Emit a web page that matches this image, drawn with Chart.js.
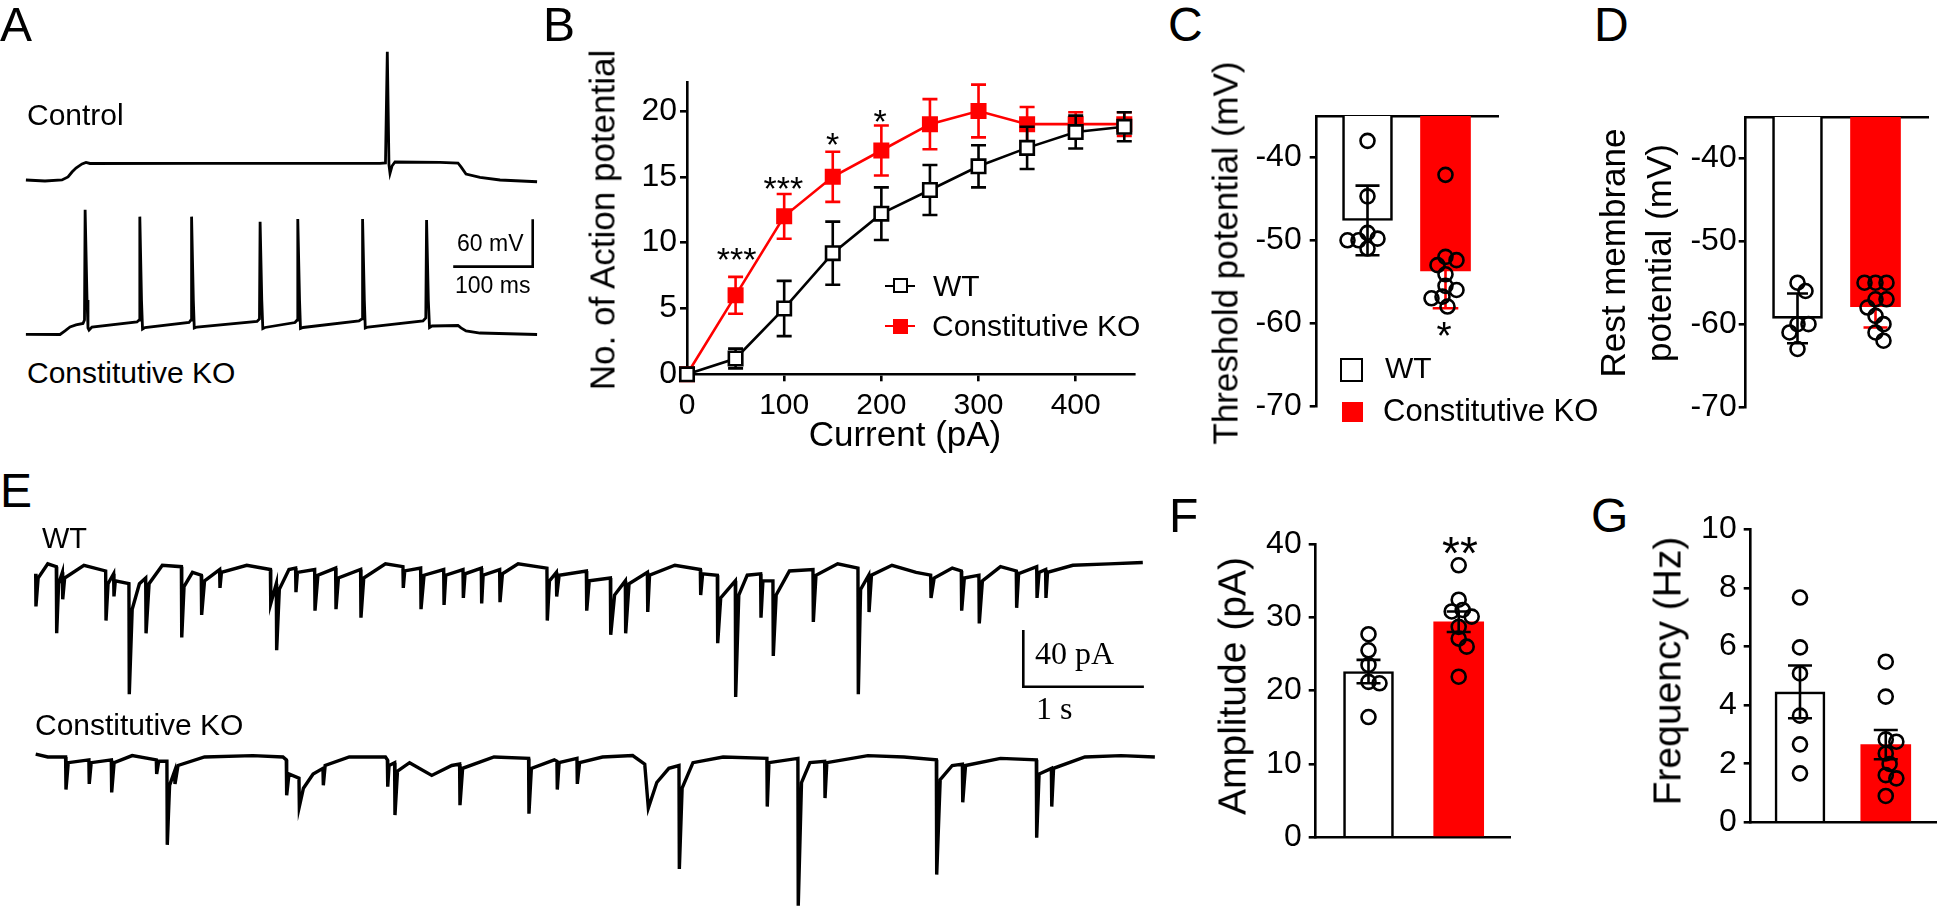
<!DOCTYPE html>
<html lang="en"><head><meta charset="utf-8"><title>Figure</title>
<script src="https://cdn.jsdelivr.net/npm/chart.js@4.4.1/dist/chart.umd.min.js"></script>
<style>
html,body{margin:0;padding:0;background:#fff}
body{position:relative;width:1946px;height:909px;overflow:hidden;font-family:'Liberation Sans',Arial,Helvetica,sans-serif;color:#000}
canvas{position:absolute;display:block}
.t{position:absolute;white-space:nowrap;line-height:1}
.vm{transform:translateY(-50%)}
.cm{transform:translate(-50%,-50%)}
.rot{transform:translate(-50%,-50%) rotate(-90deg)}
.ax{transform:translateX(-50%)}
.serif{font-family:'Liberation Serif','Times New Roman',serif}
.pl{font-size:48px}
.box{position:absolute;box-sizing:border-box}
</style></head><body>
<canvas id="cA" width="530" height="310" style="left:20px;top:40px"></canvas>
<canvas id="cB" width="560" height="405" style="left:600px;top:55px"></canvas>
<canvas id="cC" width="280" height="351" style="left:1240px;top:85px"></canvas>
<canvas id="cD" width="266" height="340" style="left:1680px;top:90px"></canvas>
<canvas id="cE" width="1150" height="369" style="left:20px;top:540px"></canvas>
<canvas id="cF" width="280" height="375" style="left:1250px;top:515px"></canvas>
<canvas id="cG" width="266" height="390" style="left:1680px;top:500px"></canvas>

<!-- panel letters -->
<div class="t pl" style="left:0px;top:1px">A</div>
<div class="t pl" style="left:543px;top:1px">B</div>
<div class="t pl" style="left:1168px;top:1px">C</div>
<div class="t pl" style="left:1594px;top:1px">D</div>
<div class="t pl" style="left:0px;top:467px">E</div>
<div class="t pl" style="left:1169px;top:492px">F</div>
<div class="t pl" style="left:1591px;top:492px">G</div>

<!-- A -->
<div class="t vm" style="left:27px;top:115px;font-size:30px">Control</div>
<div class="t vm" style="left:27px;top:373px;font-size:30px">Constitutive KO</div>
<div class="t vm" style="left:457px;top:243px;font-size:23px">60 mV</div>
<div class="t vm" style="left:455px;top:285px;font-size:23px">100 ms</div>

<!-- B -->
<div class="t rot" style="left:602px;top:220px;font-size:35px">No. of Action potential</div>
<div class="t cm" style="left:905px;top:433px;font-size:35px">Current (pA)</div>
<div class="t ax" style="left:736.7px;top:242.3px;font-size:34px">***</div>
<div class="t ax" style="left:783.3px;top:170.6px;font-size:34px">***</div>
<div class="t ax" style="left:832.5px;top:127.3px;font-size:34px">*</div>
<div class="t ax" style="left:880px;top:104px;font-size:34px">*</div>
<div class="box" style="left:885px;top:284.5px;width:30px;height:2.6px;background:#000"></div>
<div class="box" style="left:892.5px;top:278.3px;width:15px;height:15px;border:2.6px solid #000;background:#fff"></div>
<div class="t vm" style="left:933px;top:286px;font-size:30px">WT</div>
<div class="box" style="left:885px;top:324.7px;width:30px;height:2.6px;background:#ff0000"></div>
<div class="box" style="left:892.5px;top:318.5px;width:15px;height:15px;background:#ff0000"></div>
<div class="t vm" style="left:932px;top:326px;font-size:30px">Constitutive KO</div>

<!-- C -->
<div class="t rot" style="left:1225px;top:253px;font-size:35px">Threshold potential (mV)</div>
<div class="t ax" style="left:1444px;top:316px;font-size:39px">*</div>
<div class="box" style="left:1340px;top:358px;width:23px;height:24px;border:2.6px solid #000;background:#fff"></div>
<div class="t vm" style="left:1385px;top:368.3px;font-size:30px">WT</div>
<div class="box" style="left:1342px;top:402px;width:21px;height:20px;background:#ff0000"></div>
<div class="t vm" style="left:1383px;top:410px;font-size:31px">Constitutive KO</div>

<!-- D -->
<div class="t rot" style="left:1612px;top:253.3px;font-size:35px">Rest membrane</div>
<div class="t rot" style="left:1658px;top:253.3px;font-size:35px">potential (mV)</div>

<!-- E -->
<div class="t vm" style="left:42px;top:537.5px;font-size:29px">WT</div>
<div class="t vm" style="left:35px;top:725px;font-size:30px">Constitutive KO</div>
<div class="t vm serif" style="left:1035px;top:653px;font-size:32px">40 pA</div>
<div class="t vm serif" style="left:1036px;top:707.5px;font-size:32px">1 s</div>

<!-- F -->
<div class="t rot" style="left:1232px;top:686px;font-size:39px">Amplitude (pA)</div>
<div class="t ax" style="left:1460px;top:530px;font-size:46px">**</div>

<!-- G -->
<div class="t rot" style="left:1667px;top:671px;font-size:39px">Frequency (Hz)</div>

<script>
// ===================== DATA =====================
// Panel A: current-clamp traces [time (ms), membrane potential (mV)]
const ctrlTrace = [[0,-70],[24,-71.3],[45.4,-70],[53,-66.2],[58,-59.9],[63,-54.8],[70.6,-49.7],[75.6,-47.8],[80.6,-49.1],[219,-48.9],[445.4,-48.9],[452.3,-48.5],[454.6,92.4],[456.7,-51],[458,-61.5],[460.5,-52.3],[464.3,-47.2],[520.9,-47.8],[543.5,-48.5],[547.3,-53.5],[553.6,-62.4],[571.2,-66.8],[596.4,-70],[643,-72.2]];
const koTraceA = [[0,-70],[42.9,-70.3],[49.2,-65.8],[55.5,-60.8],[63,-58.2],[71.8,-56.3],
 [73.7,-51.9],[74.5,87.5],[76.9,-26.5],[78.1,-62],[79.4,-64.6],[83.1,-60.8],
 [139.7,-54.4],[142.5,-51.9],[143.3,78.9],[145.4,-26.5],[146.7,-63.3],[149.8,-61.4],
 [205.2,-55.1],[207.7,-51.9],[208.4,78.9],[210.6,-26.5],[211.8,-62],[215.2,-60.8],
 [290.7,-53.8],[293.8,-50.6],[294.6,72.5],[296.7,-26.5],[298,-62.7],[300.8,-61.4],
 [338.5,-55.1],[341.3,-51.9],[342,75.9],[344.2,-26.5],[345.4,-62.7],[348.6,-61.4],
 [419,-53.2],[422.8,-50.6],[423.5,75.9],[425.7,-26.5],[426.9,-62],[430.3,-60.8],
 [499.5,-53.2],[503,-49.4],[504,74.7],[506.2,-26.5],[507.7,-61.4],[510.8,-59.5],
 [543.5,-58.9],[547.3,-62],[553.6,-65.8],[571.2,-68.4],[643,-70.3]];
const scaleBarA = {ms: 100, mV: 60};

// Panel B: number of action potentials vs injected current
const currents = [0, 50, 100, 150, 200, 250, 300, 350, 400, 450];
const apWT     = [0, 1.2, 5.0, 9.2, 12.2, 14.0, 15.8, 17.2, 18.4, 18.8];
const apWTsem  = [0, 0.75, 2.1, 2.4, 2.0, 1.9, 1.6, 1.6, 1.25, 1.1];
const apKO     = [0, 6.0, 12.0, 15.0, 17.0, 19.0, 20.0, 19.0, 19.0, 19.0];
const apKOsem  = [0, 1.4, 1.7, 1.9, 1.9, 1.9, 2.0, 1.3, 0.9, 0.9];
const currentTicks = [0, 100, 200, 300, 400];
const apTicks = [0, 5, 10, 15, 20];

// Panel C: threshold potential (mV)
const groups = ['WT', 'Constitutive KO'];
const thrMean = [-47.6, -53.7];
const thrErr  = [4.2, 4.5];
const thrWT = [-38.0, -44.7, -49.1, -49.8, -50.0, -50.0, -51.0];
const thrKO = [-42.1, -52.0, -52.4, -53.0, -54.1, -55.5, -56.0, -56.8, -57.0, -58.0];
const mvTicks = [-40, -50, -60, -70];

// Panel D: resting membrane potential (mV)
const rmpMean = [-59.3, -57.9];
const rmpErr  = [3.0, 2.5];
const rmpWT = [-55.0, -56.0, -60.0, -60.0, -61.0, -63.0];
const rmpKO = [-55.0, -55.0, -55.0, -57.0, -57.0, -58.0, -59.0, -60.0, -61.0, -62.0];

// Panel E: sEPSC traces [time (s), current (pA)]
const sWT = [[0.000,-5],[0.002,-28],[0.02,-8],[0.10,2],[0.171,0],[0.174,-47],[0.19,-12],[0.221,-4],[0.224,-23],[0.24,-8],[0.40,1],
 [0.58,-3],[0.583,-38],[0.60,-12],[0.646,-5],[0.649,-21],[0.66,-10],[0.773,-12],[0.776,-90],[0.80,-30],[0.86,-12],[0.912,-8],[0.915,-47],[0.94,-12],[1.05,1],
 [1.208,0],[1.211,-50],[1.23,-14],[1.30,-4],[1.373,-6],[1.376,-34],[1.40,-10],[1.525,-2],[1.528,-15],[1.54,-4],[1.75,1],
 [1.946,-2],[1.949,-26],[1.995,-12],[1.998,-59],[2.02,-16],[2.10,-2],[2.155,-1],[2.158,-18],[2.17,-4],[2.313,-2],[2.316,-31],[2.34,-6],[2.487,-1],[2.49,-30],[2.51,-8],[2.694,-2],[2.697,-36],[2.72,-8],[2.90,2],
 [3.045,0],[3.048,-15],[3.06,-3],[3.192,-1],[3.195,-30],[3.22,-6],[3.383,-2],[3.386,-27],[3.40,-6],[3.543,-2],[3.546,-22],[3.56,-5],[3.695,-1],[3.698,-26],[3.71,-6],[3.847,-2],[3.85,-25],[3.87,-5],[4.00,2],
 [4.239,-1],[4.242,-38],[4.26,-10],[4.317,-4],[4.32,-21],[4.34,-6],[4.566,-3],[4.569,-31],[4.59,-10],[4.765,-8],[4.768,-48],[4.80,-20],[4.889,-10],[4.892,-47],[4.92,-12],[5.072,-4],[5.075,-32],[5.09,-6],[5.30,1],
 [5.511,-2],[5.514,-20],[5.53,-5],[5.652,-6],[5.655,-54],[5.68,-22],[5.801,-10],[5.804,-92],[5.83,-20],[5.90,-6],[6.011,-5],[6.014,-36],[6.03,-10],[6.113,-10],[6.116,-63],[6.14,-20],[6.25,-3],[6.445,-2],[6.448,-39],[6.47,-6],[6.65,2],
 [6.818,-1],[6.821,-90],[6.84,-16],[6.907,-6],[6.91,-32],[6.93,-6],[7.10,1],[7.30,-4],[7.421,-6],[7.424,-22],[7.45,-8],[7.60,-1],[7.675,-3],[7.678,-31],[7.70,-8],[7.821,-6],[7.824,-40],[7.85,-10],[8.00,0],
 [8.131,-3],[8.134,-29],[8.15,-5],[8.30,0],[8.303,-22],[8.32,-4],[8.374,-2],[8.377,-22],[8.39,-4],[8.60,1],[8.90,2],[9.18,3]];
const sKO = [[0.00,2],[0.10,0],[0.248,0],[0.251,-23],[0.27,-4],[0.441,-2],[0.444,-19],[0.46,-4],[0.627,-2],[0.63,-25],[0.65,-4],[0.80,1],
 [1.00,-2],[1.003,-12],[1.02,-3],[1.088,-3],[1.091,-62],[1.11,-20],[1.152,-10],[1.155,-19],[1.18,-6],[1.40,0],[1.80,1],
 [2.05,0],[2.078,-2],[2.081,-27],[2.10,-12],[2.183,-15],[2.186,-35],[2.22,-22],[2.30,-12],[2.382,-8],[2.385,-20],[2.40,-6],[2.60,0],
 [2.90,0],[2.916,-2],[2.919,-21],[2.93,-6],[2.976,-4],[2.979,-41],[3.00,-10],[3.10,-4],[3.284,-13],[3.45,-6],[3.515,-5],[3.518,-34],[3.54,-8],[3.80,0],
 [4.087,-1],[4.09,-40],[4.11,-8],[4.30,-2],[4.322,-3],[4.325,-23],[4.34,-4],[4.488,-1],[4.491,-19],[4.51,-4],[4.70,0],[4.95,1],
 [5.05,-5],[5.08,-36],[5.15,-18],[5.25,-8],[5.334,-6],[5.337,-79],[5.36,-22],[5.45,-4],[5.70,0],
 [6.063,-1],[6.066,-35],[6.08,-4],[6.32,-1],[6.323,-105],[6.35,-18],[6.42,-4],[6.542,-3],[6.545,-29],[6.56,-4],[6.90,1],
 [7.20,0],[7.468,-2],[7.471,-83],[7.50,-16],[7.60,-6],[7.684,-5],[7.687,-32],[7.71,-6],[8.00,-1],
 [8.297,-2],[8.30,-57],[8.32,-12],[8.422,-8],[8.425,-35],[8.44,-8],[8.70,0],[9.00,1],[9.28,0]];
const scaleBarE = {s: 1, pA: 40};

// Panel F: sEPSC amplitude (pA)
const ampMean = [22.6, 29.4];
const ampErr  = [1.6, 1.4];
const ampWT = [27.7, 25.5, 23.5, 21.2, 21.0, 16.4];
const ampKO = [37.1, 32.4, 31.0, 30.8, 30.1, 28.7, 27.1, 26.0, 21.9];
const ampTicks = [0, 10, 20, 30, 40];

// Panel G: sEPSC frequency (Hz)
const freqMean = [4.45, 2.65];
const freqErr  = [0.9, 0.5];
const freqWT = [7.67, 5.97, 5.08, 3.64, 2.66, 1.67];
const freqKO = [5.48, 4.29, 2.83, 2.75, 2.35, 1.99, 1.61, 1.50, 0.90];
const freqTicks = [0, 2, 4, 6, 8, 10];

// ===================== RENDERING =====================
const BLACK = '#000000', RED = '#ff0000', LW = 2.6;
Chart.defaults.font.family = "'Liberation Sans', Arial, Helvetica, sans-serif";
Chart.defaults.color = BLACK;
Chart.defaults.animation = false;
Chart.defaults.events = [];
Chart.defaults.plugins.legend.display = false;
Chart.defaults.plugins.tooltip.enabled = false;

const pts = arr => arr.map(([x, y]) => ({x, y}));
const hidden = (min, max) => ({type: 'linear', display: false, offset: false, min, max});
const base = (pad) => ({responsive: false, devicePixelRatio: 1, layout: {padding: pad}});

function traceDS(data, yAxisID, width) {
  return {type: 'scatter', data: pts(data), yAxisID, showLine: true, borderColor: BLACK,
    borderWidth: width, pointRadius: 0, tension: 0, clip: false};
}
// L-shaped calibration bar: corner at (cx, cy), going up by sy and horizontally by sx
function calDS(cx, cy, sx, sy, yAxisID) {
  return {type: 'scatter', yAxisID, showLine: true, borderColor: BLACK, borderWidth: LW,
    pointRadius: 0, tension: 0, clip: false, borderCapStyle: 'butt', borderJoinStyle: 'miter',
    data: [{x: cx, y: cy + sy}, {x: cx, y: cy}, {x: cx + sx, y: cy}]};
}
function tickAxis(pos, min, max, ticks, fit, size, pad) {
  const horiz = pos === 'bottom' || pos === 'top';
  return {type: 'linear', position: pos, min, max, offset: false,
    afterBuildTicks: s => { s.ticks = ticks.map(v => ({value: v})); },
    afterFit: s => { if (horiz) s.height = fit; else s.width = fit; },
    grid: {display: true, offset: false, drawOnChartArea: false, drawTicks: true, tickLength: 7, tickWidth: LW, tickColor: BLACK, color: BLACK, lineWidth: LW},
    border: {display: true, color: BLACK, width: LW},
    ticks: {color: BLACK, font: {size}, padding: pad, autoSkip: false, maxRotation: 0, minRotation: 0, callback: v => String(v)}};
}
function plainAxis(pos, min, max, fit) {
  return {type: 'linear', position: pos, min, max, z: 1, offset: false,
    afterFit: s => { s.height = fit; },
    grid: {display: false, offset: false}, border: {display: true, color: BLACK, width: LW}, ticks: {display: false}};
}
let pid = 0;
function errPlugin(hook, byDs) {
  const p = {id: 'errbars' + (pid++)};
  p[hook] = (chart, args) => {
    const items = byDs[args.index];
    if (!items) return;
    const ctx = chart.ctx, xs = chart.scales.x, ys = chart.scales.y;
    ctx.save();
    ctx.lineCap = 'butt';
    items.forEach(it => {
      if (!it.err) return;
      const px = xs.getPixelForValue(it.x);
      const hi = ys.getPixelForValue(it.m + it.err), lo = ys.getPixelForValue(it.m - it.err);
      ctx.strokeStyle = it.c; ctx.lineWidth = LW;
      ctx.beginPath();
      ctx.moveTo(px, hi); ctx.lineTo(px, lo);
      ctx.moveTo(px - it.cap, hi); ctx.lineTo(px + it.cap, hi);
      ctx.moveTo(px - it.cap, lo); ctx.lineTo(px + it.cap, lo);
      ctx.stroke();
    });
    ctx.restore();
  };
  return p;
}
// simple beeswarm: spread overlapping dots sideways (pixel distance minD)
function swarm(vals, group, pxX, pxY, minD) {
  const order = vals.map((v, i) => i).sort((a, b) => vals[b] - vals[a]);
  const placed = [], out = new Array(vals.length);
  for (const i of order) {
    const py = vals[i] * pxY;
    let dx = 0;
    for (let k = 0; k < 400; k++) {
      const c = (k % 2 ? 1 : -1) * Math.ceil(k / 2);
      if (placed.every(p => Math.hypot(p.x - c, p.y - py) >= minD)) { dx = c; break; }
    }
    placed.push({x: dx, y: py});
    out[i] = {x: group + dx / pxX, y: vals[i]};
  }
  return out;
}
const dotStyle = {type: 'scatter', pointStyle: 'circle', pointRadius: 7, pointBorderColor: BLACK,
  pointBorderWidth: LW, pointBackgroundColor: 'rgba(0,0,0,0)', clip: false};

function barChart(id, o) {
  const bars = {type: 'bar', data: o.means.map((m, i) => ({x: i + 1, y: m})),
    backgroundColor: ['#ffffff', RED], borderColor: [BLACK, RED], borderWidth: [LW, 0],
    barThickness: 50, order: 3, grouped: false};
  if (o.base !== undefined) bars.base = o.base;
  const items = o.means.map((m, i) => ({x: i + 1, m, err: o.errs[i], c: o.errColors[i], cap: o.caps[i]}));
  new Chart(document.getElementById(id), {
    type: 'bar',
    data: {datasets: [
      bars,
      Object.assign({label: groups[0], data: swarm(o.wt, 1, o.pxX, o.pxY, 11), order: 1}, dotStyle),
      Object.assign({label: groups[1], data: swarm(o.ko, 2, o.pxX, o.pxY, 11), order: 0}, dotStyle)
    ]},
    options: Object.assign(base(o.pad), {scales: {
      x: plainAxis(o.xPos, o.xMin, o.xMax, o.xFit),
      y: tickAxis('left', o.yMin, o.yMax, o.ticks, o.yFit, o.tickSize, o.tickPad)
    }}),
    plugins: [errPlugin('afterDatasetDraw', {0: items})]
  });
}

// ---- A ----
new Chart(document.getElementById('cA'), {
  type: 'scatter',
  data: {datasets: [
    traceDS(ctrlTrace, 'yC', 2.8),
    traceDS(koTraceA, 'yK', 2.8),
    calDS(637.5, 15.6, -scaleBarA.ms, scaleBarA.mV, 'yK')
  ]},
  options: Object.assign(base(0), {scales: {x: hidden(-7.42, 659.25), yC: hidden(-285.2, 107.2), yK: hidden(-89.9, 302.5)}})
});

// ---- B ----
new Chart(document.getElementById('cB'), {
  type: 'scatter',
  data: {datasets: [
    {label: groups[0], data: currents.map((c, i) => ({x: c, y: apWT[i]})), showLine: true, borderColor: BLACK, borderWidth: LW,
     pointStyle: 'rect', pointRadius: 9.5, pointBorderColor: BLACK, pointBorderWidth: LW, pointBackgroundColor: '#ffffff', order: 0, clip: false, tension: 0},
    {label: groups[1], data: currents.map((c, i) => ({x: c, y: apKO[i]})), showLine: true, borderColor: RED, borderWidth: LW,
     pointStyle: 'rect', pointRadius: 9.5, pointBorderColor: RED, pointBorderWidth: LW, pointBackgroundColor: RED, order: 1, clip: false, tension: 0}
  ]},
  options: Object.assign(base({top: 27.7, right: 26, bottom: 0, left: 0}), {scales: {
    x: tickAxis('bottom', 0, 460, currentTicks, 85.7, 30, 6),
    y: tickAxis('left', 0, 22.15, apTicks, 87, 32, 3)
  }}),
  plugins: [errPlugin('beforeDatasetDraw', {
    0: currents.map((c, i) => ({x: c, m: apWT[i], err: apWTsem[i], c: BLACK, cap: 7.5})),
    1: currents.map((c, i) => ({x: c, m: apKO[i], err: apKOsem[i], c: RED, cap: 7.5}))
  })]
});

// ---- C ----
barChart('cC', {means: thrMean, errs: thrErr, wt: thrWT, ko: thrKO, base: -35,
  errColors: [BLACK, RED], caps: [12, 12.8], pxX: 78, pxY: 8.3,
  xPos: 'top', xMin: 0.3487, xMax: 2.673, xFit: 0,
  yMin: -70, yMax: -35, ticks: mvTicks, yFit: 76.7, tickSize: 32, tickPad: 8,
  pad: {top: 31, right: 22, bottom: 30, left: 0}});

// ---- D ----
barChart('cD', {means: rmpMean, errs: rmpErr, wt: rmpWT, ko: rmpKO, base: -35,
  errColors: [BLACK, RED], caps: [10.5, 12], pxX: 78, pxY: 8.3,
  xPos: 'top', xMin: 0.3359, xMax: 2.673, xFit: 0,
  yMin: -70, yMax: -35, ticks: mvTicks, yFit: 65.7, tickSize: 32, tickPad: 2,
  pad: {top: 27, right: 18, bottom: 23, left: 0}});

// ---- E ----
new Chart(document.getElementById('cE'), {
  type: 'scatter',
  data: {datasets: [
    traceDS(sWT, 'yW', 3.4),
    traceDS(sKO, 'yK', 3.4),
    calDS(8.189, -84.7, scaleBarE.s, scaleBarE.pA, 'yW')
  ]},
  options: Object.assign(base(0), {scales: {x: hidden(-0.1302, 9.4055), yW: hidden(-241.57, 18.84), yK: hidden(-107.27, 153.14)}})
});

// ---- F ----
barChart('cF', {means: ampMean, errs: ampErr, wt: ampWT, ko: ampKO,
  errColors: [BLACK, BLACK], caps: [12, 12], pxX: 90.2, pxY: 7.33,
  xPos: 'bottom', xMin: 0.4146, xMax: 2.5765, xFit: 52.7,
  yMin: 0, yMax: 40, ticks: ampTicks, yFit: 65.7, tickSize: 32, tickPad: 7,
  pad: {top: 29, right: 19.3, bottom: 0, left: 0}});

// ---- G ----
barChart('cG', {means: freqMean, errs: freqErr, wt: freqWT, ko: freqKO,
  errColors: [BLACK, BLACK], caps: [12, 12], pxX: 89.3, pxY: 29.3,
  xPos: 'bottom', xMin: 0.4255, xMax: 2.5901, xFit: 67.7,
  yMin: 0, yMax: 10, ticks: freqTicks, yFit: 70.7, tickSize: 32, tickPad: 7,
  pad: {top: 29.3, right: 2, bottom: 0, left: 0}});
</script>
</body></html>
